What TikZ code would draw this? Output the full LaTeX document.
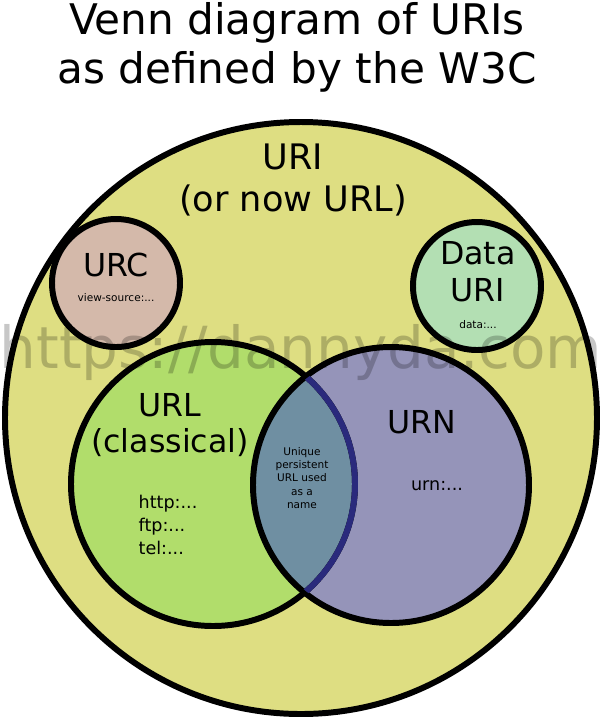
\documentclass[tikz,border=0pt]{standalone}
\usepackage{fontspec}
\setmainfont{DejaVu Sans}
\definecolor{urifill}{HTML}{DEDE82}
\definecolor{urcfill}{HTML}{D4B9AA}
\definecolor{datafill}{HTML}{B3DFB3}
\definecolor{urlfill}{HTML}{B1DD6B}
\definecolor{urnfill}{HTML}{9594B9}
\definecolor{bothfill}{HTML}{6F8FA2}
\definecolor{navy}{HTML}{2A2A7C}

\begin{document}
\begin{tikzpicture}[x=0.02cm, y=-0.02cm,
    ring/.style={draw=black, line width=3.4pt},
    big/.style={font=\fontsize{18}{21}\selectfont, align=center},
    small/.style={font=\fontsize{6}{7.5}\selectfont, align=center}]
    \useasboundingbox (0, 0) rectangle (602, 718);
    % Title
    \node[font=\fontsize{24}{28}\selectfont, align=center] (title) at (297, 47) {Venn diagram of URIs\\as defined by the W3C};
    % Outer set
    \draw[ring, fill=urifill] (301, 418) circle (296);
    \node[big, font=\fontsize{20}{24}\selectfont] (uri) at (293, 180) {URI\\(or now URL)};
    % Small sets
    \draw[ring, fill=urcfill] (116, 283) circle (64);
    \node[big] (urc) at (116, 265) {URC};
    \node[small] (urcex) at (116, 298) {view-source:...};
    \draw[ring, fill=datafill] (477, 286) circle (64);
    \node[big] (data) at (478, 272) {Data\\URI};
    \node[small] (dataex) at (478, 325) {data:...};
    % URL and URN
    \fill[urlfill] (213, 484) circle (142);
    \fill[urnfill] (391, 485) circle (138);
    \begin{scope}
        \clip (391, 485) circle (138);
        \fill[bothfill] (213, 484) circle (142);
    \end{scope}
    \draw[ring] (213, 484) circle (142);
    \draw[ring] (391, 485) circle (138);
    \begin{scope}
        \clip (391, 485) circle (136);
        \draw[ring, draw=navy] (213, 484) circle (142);
    \end{scope}
    \node[big] (url) at (170, 425) {URL\\(classical)};
    \node[font=\fontsize{10}{13}\selectfont, align=left] (urlex) at (168, 525) {http:...\\ftp:...\\tel:...};
    \node[big] (urn) at (422, 422) {URN};
    \node[font=\fontsize{10}{12}\selectfont] (urnex) at (437, 486) {urn:...};
    \node[small] (both) at (302, 478) {Unique\\persistent\\URL used\\as a\\name};
    % Watermark
    \node[font=\fontsize{33}{33}\selectfont, text=black, opacity=0.22] (mark) at (301, 352) {https://dannyda.com};
\end{tikzpicture}
\end{document}
